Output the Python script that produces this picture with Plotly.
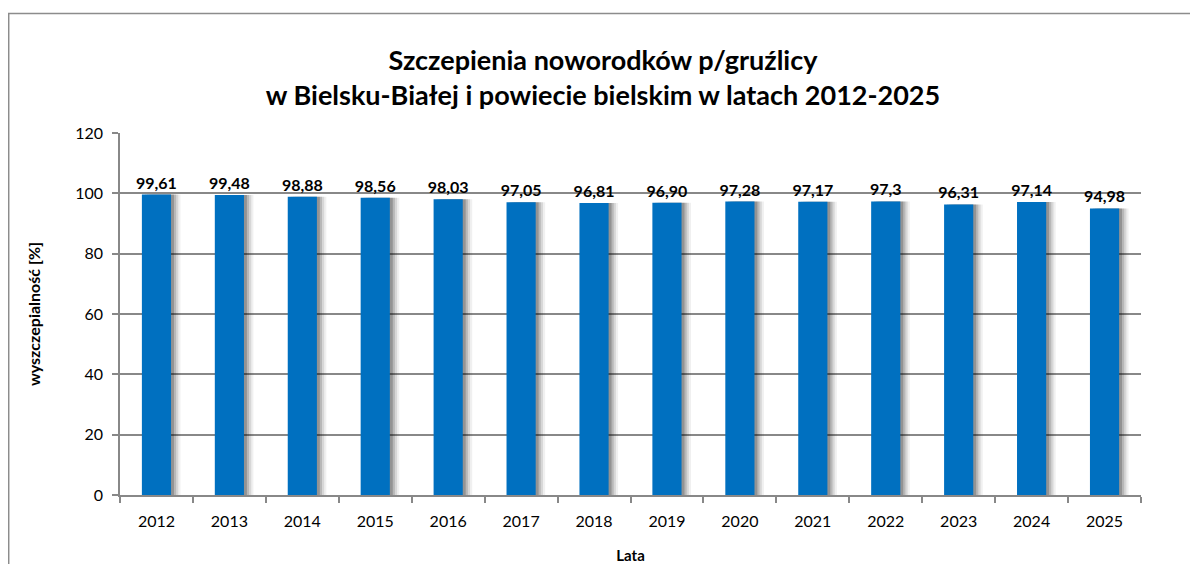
import plotly.graph_objects as go

years = ["2012", "2013", "2014", "2015", "2016", "2017", "2018", "2019",
         "2020", "2021", "2022", "2023", "2024", "2025"]
values = [99.61, 99.48, 98.88, 98.56, 98.03, 97.05, 96.81, 96.90,
          97.28, 97.17, 97.3, 96.31, 97.14, 94.98]
labels = ["99,61", "99,48", "98,88", "98,56", "98,03", "97,05", "96,81", "96,90",
          "97,28", "97,17", "97,3", "96,31", "97,14", "94,98"]
y_ticks = [0, 20, 40, 60, 80, 100, 120]

FONT = "Lato"
GRID = "#888888"

fig = go.Figure()

# soft shadow to the right of the bars
for shift, alpha in [(0.13, 0.06), (0.10, 0.10), (0.07, 0.14), (0.04, 0.20)]:
    fig.add_trace(go.Bar(
        x=years, y=values, width=0.4, offset=-0.2 + shift,
        marker=dict(color=f"rgba(0,0,0,{alpha})", line=dict(width=0)),
        hoverinfo="skip", showlegend=False,
    ))

fig.add_trace(go.Bar(
    x=years, y=values, width=0.4, offset=-0.2,
    marker=dict(color="#0070C0", line=dict(width=0)),
    text=labels, textposition="outside", cliponaxis=False, constraintext="none",
    textfont=dict(family=FONT, size=16, color="#000000", weight="bold"),
    showlegend=False,
))

fig.update_layout(
    width=1190, height=556,
    margin=dict(l=112, r=57, t=125, b=69),
    paper_bgcolor="white", plot_bgcolor="white",
    barmode="overlay",
    font=dict(family=FONT, size=16, color="#000000"),
    title=dict(
        text="<b>Szczepienia noworodków p/gruźlicy<br>w Bielsku-Białej i powiecie bielskim w latach 2012-2025</b>",
        x=0.5, xanchor="center", y=0.8885, yanchor="middle",
        font=dict(family=FONT, size=27, color="#000000"),
    ),
    xaxis=dict(
        type="category", automargin=False,
        showline=True, linecolor=GRID, linewidth=1.5,
        ticks="outside", tickson="boundaries", ticklen=6, tickcolor=GRID, tickwidth=1.5,
        showgrid=False,
        ticklabelstandoff=11,
        tickfont=dict(family=FONT, size=16, color="#000000"),
        title=dict(text="<b>Lata</b>", font=dict(family=FONT, size=15), standoff=24),
    ),
    yaxis=dict(
        range=[0, 120], tickvals=y_ticks, automargin=False,
        showline=True, linecolor=GRID, linewidth=1.5,
        ticks="outside", ticklen=6, tickcolor=GRID, tickwidth=1.5,
        showgrid=True, gridcolor=GRID, gridwidth=1.5,
        zeroline=False,
        ticklabelstandoff=6,
        tickfont=dict(family=FONT, size=16, color="#000000"),
        title=dict(text="<b>wyszczepialność [%]</b>", font=dict(family=FONT, size=16), standoff=31),
    ),
)

# outer chart frame (extends past the right and bottom of the view)
fig.add_shape(type="rect", xref="paper", yref="paper",
              x0=-0.109, x1=1.10, y0=-0.25, y1=1.330,
              line=dict(color="#8c8c8c", width=1.5), layer="below")

fig.write_html("out.html")
